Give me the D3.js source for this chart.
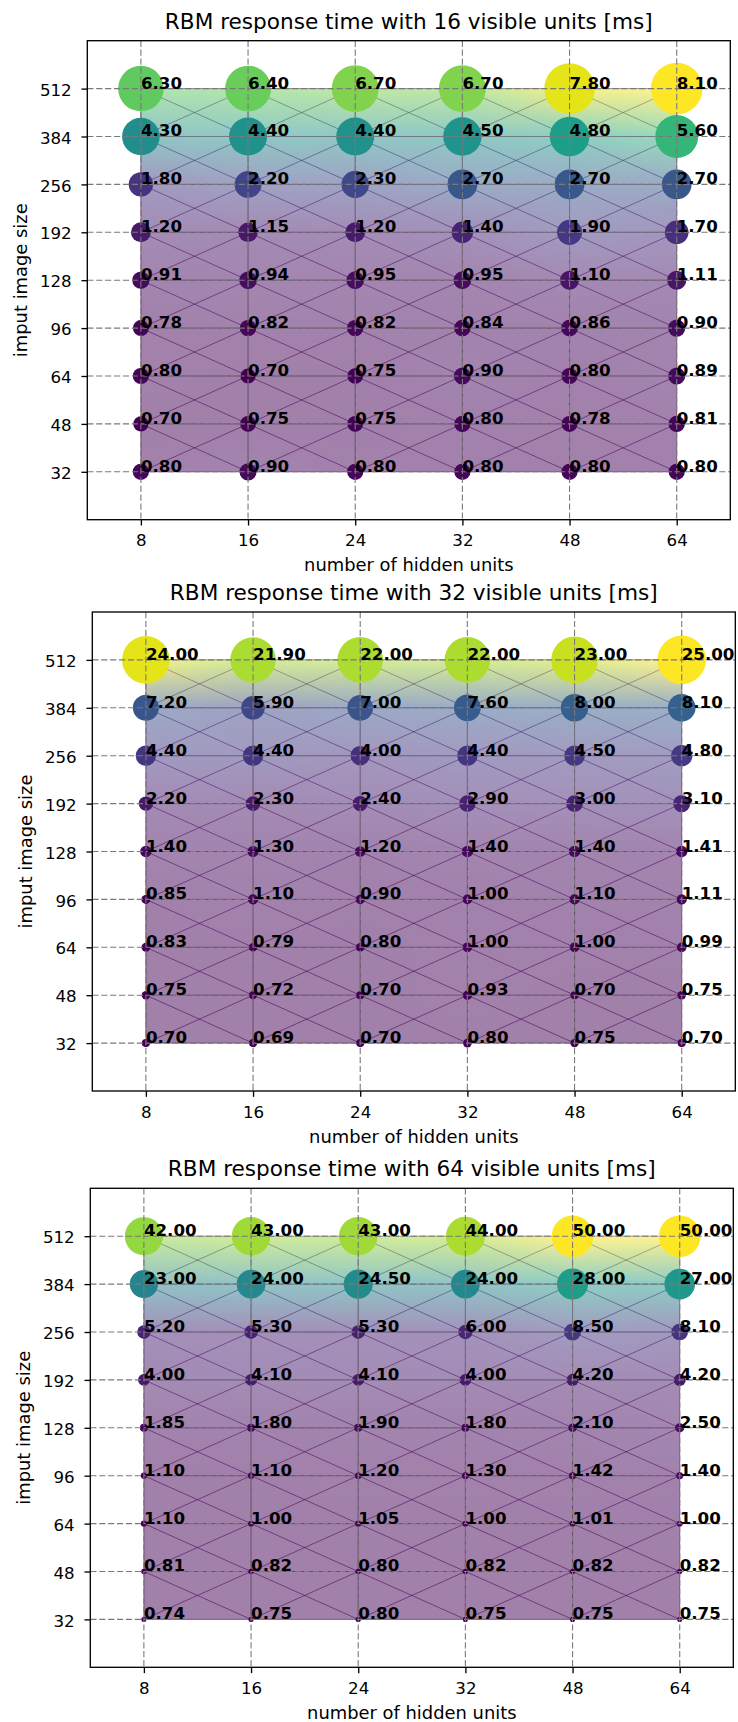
<!DOCTYPE html>
<html><head><meta charset="utf-8">
<script src="https://cdn.jsdelivr.net/npm/d3@7"></script>
<style>
html,body{margin:0;padding:0;background:#fff;}
svg{display:block;font-family:"DejaVu Sans",sans-serif;}
</style>
</head><body><div id="chart"></div>
<script>
// ---------------- data ----------------
const hiddenUnits = ["8","16","24","32","48","64"];
const imageSizes = ["32","48","64","96","128","192","256","384","512"];
const visibleUnits = ["16","32","64"];
// response times [ms]: one row per image size (32 -> 512), one column per hidden-unit count
const time16 = [
  [0.80,0.90,0.80,0.80,0.80,0.80],
  [0.70,0.75,0.75,0.80,0.78,0.81],
  [0.80,0.70,0.75,0.90,0.80,0.89],
  [0.78,0.82,0.82,0.84,0.86,0.90],
  [0.91,0.94,0.95,0.95,1.10,1.11],
  [1.20,1.15,1.20,1.40,1.90,1.70],
  [1.80,2.20,2.30,2.70,2.70,2.70],
  [4.30,4.40,4.40,4.50,4.80,5.60],
  [6.30,6.40,6.70,6.70,7.80,8.10]
];
const time32 = [
  [0.70,0.69,0.70,0.80,0.75,0.70],
  [0.75,0.72,0.70,0.93,0.70,0.75],
  [0.83,0.79,0.80,1.00,1.00,0.99],
  [0.85,1.10,0.90,1.00,1.10,1.11],
  [1.40,1.30,1.20,1.40,1.40,1.41],
  [2.20,2.30,2.40,2.90,3.00,3.10],
  [4.40,4.40,4.00,4.40,4.50,4.80],
  [7.20,5.90,7.00,7.60,8.00,8.10],
  [24.00,21.90,22.00,22.00,23.00,25.00]
];
const time64 = [
  [0.74,0.75,0.80,0.75,0.75,0.75],
  [0.81,0.82,0.80,0.82,0.82,0.82],
  [1.10,1.00,1.05,1.00,1.01,1.00],
  [1.10,1.10,1.20,1.30,1.42,1.40],
  [1.85,1.80,1.90,1.80,2.10,2.50],
  [4.00,4.10,4.10,4.00,4.20,4.20],
  [5.20,5.30,5.30,6.00,8.50,8.10],
  [23.00,24.00,24.50,24.00,28.00,27.00],
  [42.00,43.00,43.00,44.00,50.00,50.00]
];
const panelData = [time16, time32, time64];

// ---------------- layout / style ----------------
const PAGE_W = 738, PAGE_H = 1722;
const AX_W = 643, AX_H = 479;
const layout = [
  {left: 87.3, top: 40.7, rMax: 25.8},
  {left: 92.3, top: 612.0, rMax: 24.3},
  {left: 90.3, top: 1188.3, rMax: 20.8}
];
const FS_TICK = 16.67, FS_LABEL = 17.9, FS_TITLE = 21.6, FS_ANN = 16.67;

const svg = d3.select("#chart").append("svg")
  .attr("width", PAGE_W).attr("height", PAGE_H)
  .attr("viewBox", `0 0 ${PAGE_W} ${PAGE_H}`);

const fmt = d3.format(".2f");

function drawPanel(data, vis, L) {
  const g = svg.append("g").attr("transform", `translate(${L.left},${L.top})`);
  const x = d3.scalePoint().domain(hiddenUnits).range([0, AX_W]).padding(0.5);
  const y = d3.scalePoint().domain(imageSizes).range([AX_H, 0]).padding(1);
  const flat = data.flat();
  const color = d3.scaleSequential(d3.interpolateViridis).domain(d3.extent(flat));
  const r = d3.scaleSqrt().domain([0, d3.max(flat)]).range([0, L.rMax]);

  const nx = hiddenUnits.length, ny = imageSizes.length;
  const x0 = x(hiddenUnits[0]), x1 = x(hiddenUnits[nx - 1]);
  const yb = y(imageSizes[0]), yt = y(imageSizes[ny - 1]);

  // ---- triangulation mesh (cell edges + diagonals) ----
  const segs = [];
  imageSizes.forEach(s => segs.push([[x0, y(s)], [x1, y(s)]]));
  hiddenUnits.forEach(h => segs.push([[x(h), yt], [x(h), yb]]));
  for (let j = 0; j < ny - 1; j++) {
    for (let i = 0; i < nx - 1; i++) {
      const xa = x(hiddenUnits[i]), xb = x(hiddenUnits[i + 1]);
      const ya = y(imageSizes[j]), ybb = y(imageSizes[j + 1]);
      segs.push([[xa, ya], [xb, ybb]]);
      segs.push([[xa, ybb], [xb, ya]]);
    }
  }
  g.append("g").selectAll("path").data(segs).join("path")
    .attr("d", d => d3.line()(d))
    .attr("fill", "none")
    .attr("stroke", "#440154").attr("stroke-opacity", 0.55)
    .attr("stroke-width", 1);

  // ---- gouraud-shaded fill (4 triangles per cell, centre = mean colour) ----
  const cw = Math.max(1, Math.round(x1 - x0)), ch = Math.max(1, Math.round(yb - yt));
  const canvas = document.createElement("canvas");
  canvas.width = cw; canvas.height = ch;
  const ctx = canvas.getContext("2d");
  const img = ctx.createImageData(cw, ch);
  const vc = data.map(row => row.map(v => d3.rgb(color(v))));
  for (let py = 0; py < ch; py++) {
    const v = (ch - (py + 0.5)) * (ny - 1) / ch;
    const j = Math.min(Math.floor(v), ny - 2);
    const fv = v - j;
    for (let px = 0; px < cw; px++) {
      const u = (px + 0.5) * (nx - 1) / cw;
      const i = Math.min(Math.floor(u), nx - 2);
      const fu = u - i;
      const c00 = vc[j][i], c10 = vc[j][i + 1], c01 = vc[j + 1][i], c11 = vc[j + 1][i + 1];
      const C = {r: (c00.r + c10.r + c01.r + c11.r) / 4,
                 g: (c00.g + c10.g + c01.g + c11.g) / 4,
                 b: (c00.b + c10.b + c01.b + c11.b) / 4};
      let A, B, wA, wB, wC;
      if (fv <= fu && fv <= 1 - fu) { A = c00; B = c10; wC = 2 * fv; wA = 1 - fu - fv; wB = fu - fv; }
      else if (fv >= fu && fv >= 1 - fu) { const q = 1 - fv; A = c01; B = c11; wC = 2 * q; wA = 1 - fu - q; wB = fu - q; }
      else if (fu < fv) { A = c00; B = c01; wC = 2 * fu; wA = 1 - fv - fu; wB = fv - fu; }
      else { const q = 1 - fu; A = c10; B = c11; wC = 2 * q; wA = 1 - fv - q; wB = fv - q; }
      const k = (py * cw + px) * 4;
      img.data[k] = A.r * wA + B.r * wB + C.r * wC;
      img.data[k + 1] = A.g * wA + B.g * wB + C.g * wC;
      img.data[k + 2] = A.b * wA + B.b * wB + C.b * wC;
      img.data[k + 3] = 128;
    }
  }
  ctx.putImageData(img, 0, 0);
  g.append("image")
    .attr("href", canvas.toDataURL())
    .attr("x", x0).attr("y", yt)
    .attr("width", x1 - x0).attr("height", yb - yt)
    .attr("preserveAspectRatio", "none");

  // ---- scatter markers ----
  const pts = [];
  data.forEach((row, j) => row.forEach((v, i) => pts.push({h: hiddenUnits[i], s: imageSizes[j], v})));
  g.append("g").selectAll("circle").data(pts).join("circle")
    .attr("cx", d => x(d.h)).attr("cy", d => y(d.s))
    .attr("r", d => r(d.v))
    .attr("fill", d => color(d.v));

  // ---- grid ----
  const grid = g.append("g").attr("stroke", "#7a7a7a").attr("stroke-width", 1.1)
    .attr("stroke-dasharray", "6.2,2.7").attr("fill", "none");
  grid.selectAll("line.gx").data(hiddenUnits).join("line").attr("class", "gx")
    .attr("x1", d => x(d)).attr("x2", d => x(d)).attr("y1", 0).attr("y2", AX_H);
  grid.selectAll("line.gy").data(imageSizes).join("line").attr("class", "gy")
    .attr("y1", d => y(d)).attr("y2", d => y(d)).attr("x1", 0).attr("x2", AX_W);

  // ---- axes ----
  const xa = g.append("g").attr("transform", `translate(0,${AX_H})`)
    .call(d3.axisBottom(x).tickSize(5.83).tickSizeOuter(0).tickPadding(8.9));
  const ya = g.append("g")
    .call(d3.axisLeft(y).tickSize(5.83).tickSizeOuter(0).tickPadding(9.8));
  [xa, ya].forEach(a => {
    a.select(".domain").remove();
    a.selectAll(".tick line").attr("stroke", "#000").attr("stroke-width", 1.33);
    a.selectAll(".tick text").attr("fill", "#000").attr("font-size", FS_TICK)
      .attr("font-family", "DejaVu Sans");
  });
  ya.selectAll(".tick text").attr("dy", "0.4em");

  g.append("rect").attr("x", 0).attr("y", 0).attr("width", AX_W).attr("height", AX_H)
    .attr("fill", "none").attr("stroke", "#000").attr("stroke-width", 1.33);

  // ---- annotations ----
  g.append("g").selectAll("text").data(pts).join("text")
    .attr("x", d => x(d.h)).attr("y", d => y(d.s))
    .attr("font-size", FS_ANN).attr("font-weight", "bold").attr("fill", "#000")
    .text(d => fmt(d.v));

  // ---- labels ----
  g.append("text").attr("x", AX_W / 2).attr("y", -12)
    .attr("text-anchor", "middle").attr("font-size", FS_TITLE).attr("fill", "#000")
    .text(`RBM response time with ${vis} visible units [ms]`);
  g.append("text").attr("x", AX_W / 2).attr("y", AX_H + 51.7)
    .attr("text-anchor", "middle").attr("font-size", FS_LABEL).attr("fill", "#000")
    .text("number of hidden units");
  g.append("text").attr("transform", `translate(-60.3,${AX_H / 2}) rotate(-90)`)
    .attr("text-anchor", "middle").attr("font-size", FS_LABEL).attr("fill", "#000")
    .text("imput image size");
}

panelData.forEach((d, k) => drawPanel(d, visibleUnits[k], layout[k]));
</script>
</body></html>
